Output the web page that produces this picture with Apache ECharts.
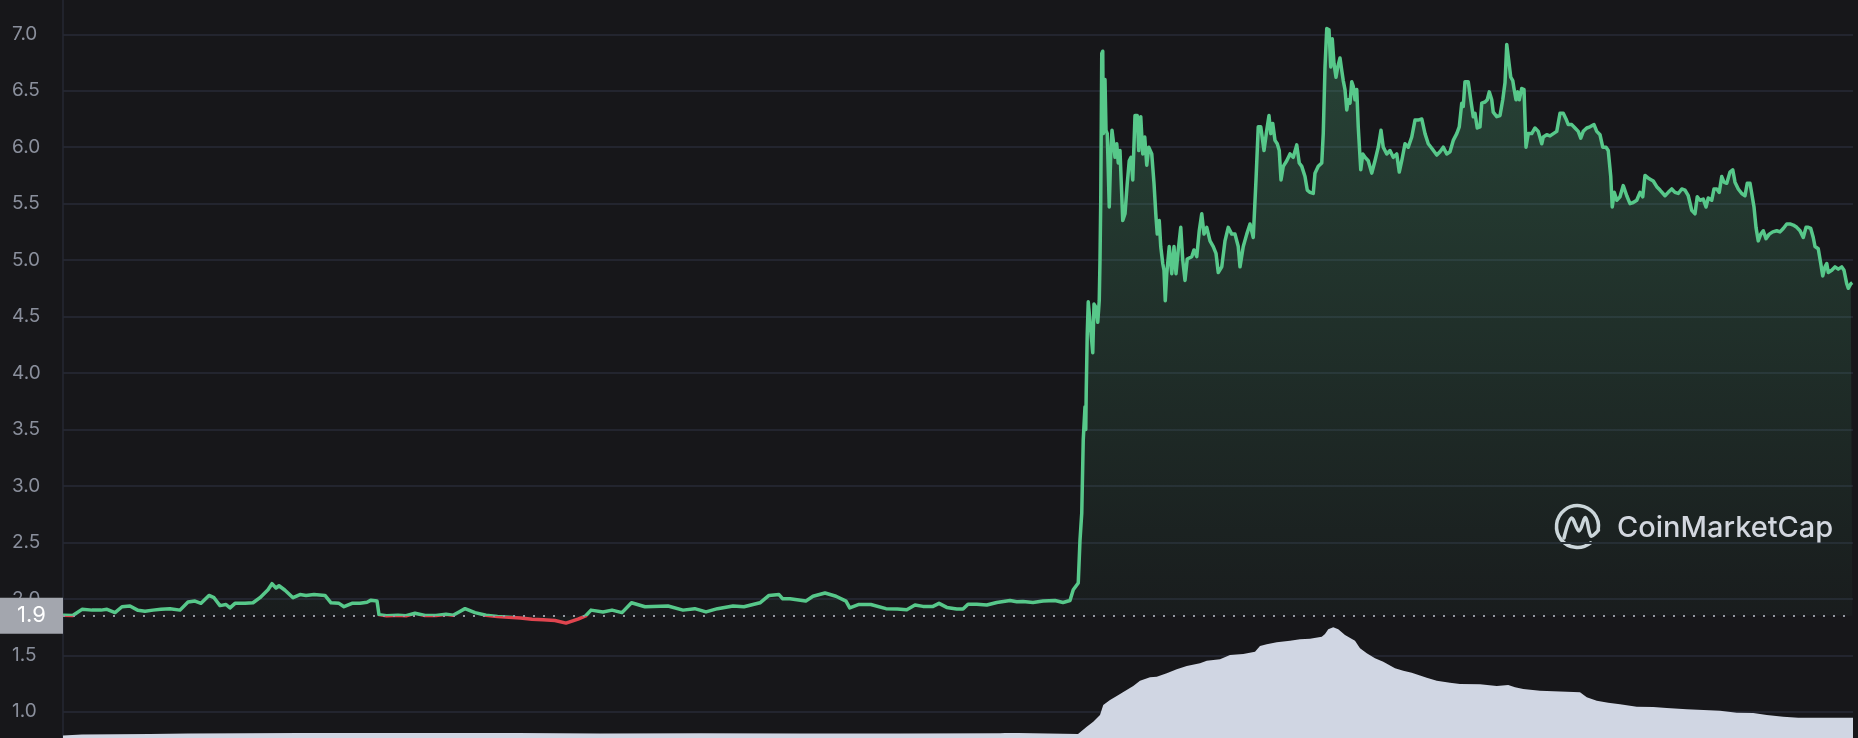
<!DOCTYPE html>
<html>
<head>
<meta charset="utf-8">
<script src="https://cdn.jsdelivr.net/npm/echarts@6/dist/echarts.min.js"></script>
<style>
html,body{margin:0;padding:0;background:#17171a;overflow:hidden}
#c{width:1858px;height:738px}
</style>
</head>
<body>
<div id="c"></div>
<script>
// Price samples: [hour, price]
const priceFlat = [
[0,1.855],[3.9,1.852],[7.6,1.907],[11.6,1.90],[15.2,1.90],[17.6,1.907],[20.8,1.878],[23.6,1.93],[26.8,1.936],[30,1.898],
[32.8,1.89],[36,1.90],[39.2,1.907],[42.8,1.913],[46.8,1.90],[50,1.971],[52.8,1.98],[55.2,1.96],[58.4,2.03],[60.4,2.01],
[62.8,1.94],[65.2,1.95],[66.8,1.92],[68.8,1.96],[72.8,1.96],[76,1.965],[78.8,2.01],[82,2.08],[83.6,2.134],[85.2,2.096],
[86.4,2.116],[88.8,2.076],[92,2.01],[94.8,2.038],[97.2,2.03],[100.4,2.038],[104.8,2.03],[107.2,1.965],[110.4,1.96],[112.4,1.93],
[115.6,1.96],[118.8,1.96],[121.6,1.97],[123.2,1.988],[125.6,1.98],[126.4,1.86],[129.4,1.85],[134,1.855],[137.2,1.85],[140.8,1.872],
[144.8,1.852],[149.2,1.852],[153.2,1.863],[156,1.855],[158.4,1.884],[160.8,1.913],[164.8,1.878],[169.2,1.855],[173.8,1.843],[178.4,1.837],
[183,1.83],[187.6,1.82],[192,1.814],[196.8,1.808],[201.2,1.785],[206,1.82],[209,1.848],[211.2,1.90],[216,1.884],[219.6,1.90],
[223.6,1.878],[227.4,1.965],[232.8,1.93],[242,1.936],[248,1.90],[252.7,1.913],[257.2,1.884],[261.8,1.913],[268,1.936],[272.4,1.93],
[278.8,1.965],[282.4,2.03],[286.4,2.038],[287.9,2.0],[290.8,2.0],[297.1,1.98],[300,2.023],[304.8,2.052],[309.2,2.023],[313.2,1.98],
[314.7,1.92],[318.4,1.95],[323.1,1.95],[329.2,1.913],[333.8,1.91],[337.5,1.904],[340.8,1.945],[344,1.933],[348,1.933],[350.4,1.96],
[353.5,1.924],[357.5,1.91],[360,1.91],[362,1.953],[365.5,1.953],[369.5,1.945],[373.5,1.968],[378.8,1.985],[381.5,1.974],[384,1.976],
[388,1.968],[392,1.98],[396.8,1.985],[400,1.968],[402.8,1.985]
];
const priceSurge = [
[404.1,2.08],[406.1,2.14],[406.8,2.52],[407.5,2.76],[408.1,3.41],[408.8,3.7],[409.1,3.5],[409.3,3.85],[409.7,4.35],[410.1,4.63],
[410.8,4.64],[411.9,4.18],[412.4,4.61],[413.2,4.58],[413.9,4.45],[414.5,4.64],[414.8,5.0],[415.1,5.53],[415.5,6.83],[415.9,6.85],
[416.1,6.12],[416.8,6.6],[417.2,6.15],[417.7,6.12],[418.5,5.47],[419.1,5.94],[419.6,6.15],[420.1,6.06],[420.8,5.91],[421.5,6.03],
[422.1,5.86],[422.8,5.97],[423.9,5.35],[424.8,5.41],[425.7,5.68],[426.5,5.88],[427.2,5.91],[427.9,5.71],[428.8,6.28],[429.7,6.28],
[430.3,5.97],[431.1,6.27],[431.9,5.94],[432.7,6.09],[433.5,5.84],[434.3,6.0],[435.5,5.94],[436.4,5.68],[437.2,5.38],[437.7,5.23],
[438.5,5.35],[439.1,5.12],[439.9,4.97],[440.4,4.91],[440.9,4.64],[441.5,4.88],[442.5,5.12],[443.5,4.88],[444.4,5.12],[445.2,4.88],
[446.1,5.09],[447.1,5.29],[447.9,5.0],[448.8,4.82],[449.7,5.01],[451.5,5.03],[452.4,5.09],[453.5,5.03],[454.5,5.26],[455.5,5.41],
[456.4,5.23],[457.5,5.29],[458.8,5.17],[460.1,5.12],[461.2,5.06],[462.1,4.89],[463.5,4.94],[464.8,5.17],[466.1,5.29],[467.5,5.23],
[468.8,5.23],[470.1,5.12],[470.8,4.94],[472.1,5.12],[473.5,5.23],[474.8,5.32],[476.1,5.2],[477.2,5.71],[478.1,6.18],[479.1,6.18],
[479.9,6.18],[480.4,5.97],[481.5,6.15],[482.4,6.28],[483.1,6.12],[483.9,6.21],[484.8,6.06],[485.7,6.03],[486.5,5.97],[487.2,5.71],
[488.1,5.83],[489.5,5.88],[490.8,5.94],[492.1,5.91],[493.5,6.02],[494.5,5.86],[495.5,5.83],[496.8,5.74],[497.7,5.62],[498.8,5.6],
[500.1,5.59],[500.8,5.77],[502.1,5.83],[503.5,5.86],[504.1,6.12],[504.8,6.71],[505.5,7.05],[506.4,7.04],[507.1,6.71],[507.7,6.96],
[508.4,6.74],[509.2,6.62],[509.9,6.71],[510.8,6.79],[511.5,6.68],[512.1,6.59],[512.8,6.51],[513.5,6.33],[514.1,6.42],[514.8,6.39],
[515.5,6.58],[516.1,6.54],[516.8,6.42],[517.5,6.51],[518.1,6.18],[519.1,5.8],[519.9,5.94],[520.8,5.91],[522.1,5.88],[523.5,5.77],
[524.8,5.88],[526.1,6.0],[527.2,6.15],[528.1,6.0],[529.5,5.94],[530.8,5.97],[532.1,5.91],[533.5,5.94],[534.5,5.78],[535.5,5.88],
[536.8,6.03],[538.1,6.0],[539.5,6.09],[540.8,6.24],[542.1,6.24],[543.5,6.25],[544.8,6.12],[546.1,6.03],[547.5,5.99],[549.5,5.93],
[550.8,5.96],[552.1,6.0],[553.5,5.94],[554.8,5.96],[556.1,6.06],[557.5,6.12],[558.5,6.18],[559.5,6.39],[560.1,6.36],[560.8,6.58],
[562.1,6.58],[563.1,6.42],[564.1,6.27],[564.8,6.3],[565.7,6.17],[566.8,6.18],[567.5,6.39],[568.8,6.4],[569.7,6.42],[570.5,6.49],
[571.5,6.42],[572.1,6.31],[573.5,6.27],[574.8,6.28],[575.9,6.42],[576.8,6.57],[577.5,6.91],[578.3,6.91],[579.1,6.62],[579.9,6.59],
[580.4,6.52],[581.2,6.42],[581.9,6.49],[582.5,6.42],[583.5,6.52],[584.4,6.51],[585.2,6.0],[586.1,6.12],[587.5,6.12],[588.8,6.17],
[590.1,6.14],[591.5,6.03],[592.1,6.09],[593.5,6.11],[594.8,6.1],[597.5,6.14]
];
const priceLate = [
[598.8,6.3],[600.1,6.3],[601.2,6.25],[602.1,6.2],[603.5,6.2],[604.8,6.17],[606.1,6.14],[607.1,6.08],[608.1,6.14],[609.5,6.17],
[610.8,6.18],[612.4,6.2],[613.5,6.14],[614.8,6.11],[615.9,6.0],[617.2,6.0],[618.1,5.97],[619.1,5.74],[619.7,5.47],[620.5,5.6],
[621.5,5.53],[622.8,5.56],[624.1,5.66],[625.5,5.57],[626.8,5.5],[628.1,5.51],[629.5,5.53],[630.8,5.6],[631.9,5.56],[632.8,5.75],
[633.5,5.75],[634.5,5.72],[636.1,5.7],[637.5,5.65],[638.8,5.62],[640.8,5.57],[642.1,5.6],[643.5,5.63],[644.8,5.6],[646.1,5.59],
[647.5,5.63],[648.8,5.62],[650.1,5.57],[651.5,5.44],[652.8,5.41],[653.7,5.56],[654.8,5.53],[656.1,5.54],[657.2,5.47],[658.1,5.55],
[659.5,5.53],[660.4,5.63],[661.5,5.63],[662.5,5.6],[663.5,5.74],[664.4,5.69],[665.5,5.68],[666.8,5.78],[667.9,5.8],[668.8,5.69],
[670.1,5.63],[671.5,5.59],[672.8,5.57],[673.7,5.68],[674.8,5.68],[675.5,5.59],[676.4,5.47],[677.2,5.29],[678.1,5.17],[679.1,5.23],
[680.1,5.26],[681.2,5.19],[682.5,5.23],[683.9,5.25],[685.5,5.26],[686.8,5.25],[688.1,5.28],[689.5,5.32],[690.8,5.32],[692.1,5.31],
[693.5,5.29],[694.8,5.26],[696.1,5.2],[697.2,5.29],[698.1,5.29],[699.1,5.28],[700.1,5.2],[700.8,5.12],[702.1,5.1],[703.1,4.97],
[703.9,4.86],[704.8,4.94],[705.5,4.97],[706.1,4.89],[707.5,4.91],[708.8,4.94],[710.1,4.92],[711.5,4.94],[712.4,4.91],[713.5,4.79],
[714.1,4.75],[715.1,4.79],[715.7,4.8]
];
// Volume samples: [hour, volume]
const volumeEarly = [
[0,2.5],[7.6,3.5],[34.8,4],[50,4.5],[94.8,5],[181.6,5],[214.8,4.5],[254.8,4.7],[294.8,4.5],[334.8,4.5],
[374.8,4.7],[376.8,5],[382,5],[382.8,4],[406,4],[406.8,4.5]
];
const volumeSurge = [
[409.5,11.3],[412.1,16.3],[414.8,23],[416.1,33],[418.8,38],[421.5,42],[424.8,47],[428.1,52],[430.8,57.3],[434.8,60.7],
[437.5,61.3],[441.5,64.7],[445.5,68.7],[449.5,72],[454.8,74.7],[457.5,77.3],[462.8,78.7],[466.8,83],[472.1,84],[476.8,86.3],
[478.8,92],[481.5,93.7],[485.5,95.7],[490.8,97.3],[494.8,98.7],[498.8,99.3],[503.5,101.3],[504.8,104],[506.1,108.7],[508.1,110.7],
[510.1,108.7],[512.8,103],[516.8,97.3],[518.8,89.7],[521.5,84.7],[524.8,79.7],[528.1,76.3],[532.8,69.7],[536.1,67.3],[539.5,65.3]
];
const volumeLate = [
[542.8,62.5],[545.5,60.3],[549.5,57.3],[554.8,55.3],[558.8,54],[566.8,53.7],[573.5,52],[578.1,53],[580.8,50.7],[584.1,49],
[590.8,47.3],[601.5,46.3],[606.8,45.7],[609.5,40.7],[613.5,37.3],[618.1,35.3],[622.8,33.7],[629.5,31.3],[636.1,31],[641.5,30],
[649.5,28.7],[662.8,27.3],[669.5,25.3],[676.1,25],[681.5,23],[688.1,21.3],[694.1,20.3],[716,20.3]
];
const openPrice = 1.85;
const openLabel = '1.9';
const yMin = 0.5, yMax = 7.5, yStep = 0.5;
const hourSpan = [0, 716];
const watermark = 'CoinMarketCap';

const GREEN = '#57c88a', RED = '#e0454f';
const chart = echarts.init(document.getElementById('c'), null, {renderer: 'canvas'});
const prices = priceFlat.concat(priceSurge, priceLate);
const volumes = volumeEarly.concat(volumeSurge, volumeLate);

chart.setOption({
  backgroundColor: '#17171a',
  animation: false,
  grid: [
    {left: 63, right: 5, top: -22.2, bottom: -30.2, outerBoundsMode: 'none', containLabel: false},
    {left: 63, right: 5, bottom: 0, height: 120, outerBoundsMode: 'none', containLabel: false}
  ],
  xAxis: [
    {type: 'value', gridIndex: 0, min: hourSpan[0], max: hourSpan[1], show: false},
    {type: 'value', gridIndex: 1, min: hourSpan[0], max: hourSpan[1], show: false}
  ],
  yAxis: [
    {type: 'value', gridIndex: 0, min: yMin, max: yMax, interval: yStep,
     axisLine: {show: true, lineStyle: {color: '#262833', width: 1.5}},
     axisTick: {show: false},
     splitLine: {show: true, lineStyle: {color: '#23252f', width: 2}},
     axisLabel: {align: 'left', margin: 51, color: '#8a8f9c', fontSize: 19, fontFamily: 'Inter',
                 showMinLabel: false, showMaxLabel: false, hideOverlap: false,
                 formatter: v => v.toFixed(1)}},
    {type: 'value', gridIndex: 1, min: 0, max: 120, show: false, splitLine: {show: false}}
  ],
  series: [
    {
      type: 'line', xAxisIndex: 0, yAxisIndex: 0, data: prices,
      showSymbol: false, symbol: 'none', z: 3,
      lineStyle: {width: 3.5, join: 'round', color: GREEN},
      areaStyle: {
        origin: openPrice,
        color: new echarts.graphic.LinearGradient(0, 0, 0, 1, [
          {offset: 0, color: 'rgba(88,200,140,0.36)'},
          {offset: 1, color: 'rgba(88,200,140,0.04)'}
        ])
      },
      markLine: {
        silent: true, symbol: ['none', 'none'], animation: false,
        lineStyle: {type: [2, 8], color: '#9296a0', width: 2, cap: 'butt'},
        label: {
          show: true, position: 'start', distance: 0,
          formatter: '{a|' + openLabel + '}',
          rich: {a: {width: 63, height: 36, lineHeight: 36, align: 'center',
                     backgroundColor: '#a3a6ae', color: '#ffffff', fontSize: 22, fontFamily: 'Inter'}}
        },
        data: [{yAxis: openPrice}]
      }
    },
    {
      type: 'line', xAxisIndex: 1, yAxisIndex: 1, data: volumes,
      showSymbol: false, symbol: 'none', z: 2,
      lineStyle: {width: 0},
      itemStyle: {color: '#d0d6e3'},
      areaStyle: {color: '#d0d6e3', opacity: 1}
    }
  ],
  graphic: [
    {type: 'group', x: 1555, y: 503, z: 100, silent: true, children: [
      {type: 'arc', shape: {cx: 22.5, cy: 23.5, r: 21, startAngle: 0.9, endAngle: Math.PI * 2 + 0.15, clockwise: true},
       style: {stroke: '#d3d7df', lineWidth: 3.5, fill: 'none', lineCap: 'round'}},
      {type: 'polyline', shape: {points: [[9, 35], [16.5, 15], [24, 28], [30.5, 14.5], [36, 33], [43.5, 27]], smooth: 0.35},
       style: {stroke: '#d3d7df', lineWidth: 3.5, fill: 'none', lineCap: 'round', lineJoin: 'round'}}
    ]},
    {type: 'text', x: 1617, y: 528, z: 100, silent: true,
     style: {text: watermark, fill: '#d3d7df', font: '500 29px Inter', verticalAlign: 'middle', align: 'left'}}
  ]
});

// Colour the price line red below the opening price, green above, using the axis scale.
const yOpen = chart.convertToPixel({yAxisIndex: 0}, openPrice);
if (isFinite(yOpen)) {
  chart.setOption({
    series: [{
      lineStyle: {
        color: new echarts.graphic.LinearGradient(0, yOpen - 2, 0, yOpen + 2, [
          {offset: 0, color: GREEN}, {offset: 0.5, color: GREEN},
          {offset: 0.5, color: RED}, {offset: 1, color: RED}
        ], true)
      }
    }]
  });
}
</script>
</body>
</html>
